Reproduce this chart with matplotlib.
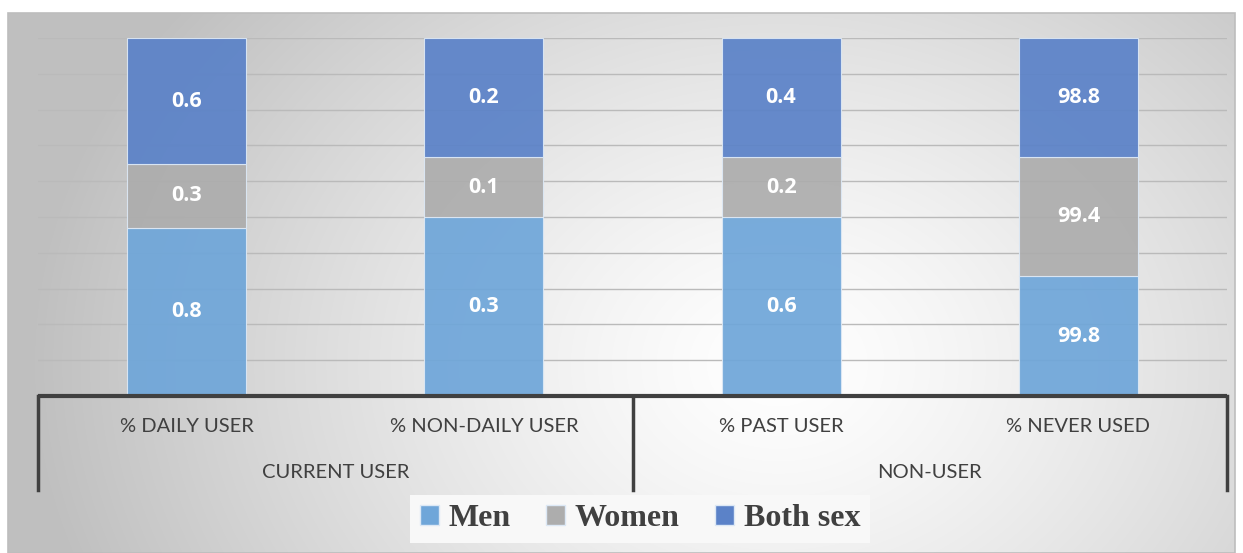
import numpy as np
import matplotlib.pyplot as plt
from matplotlib.patches import Patch, Rectangle

# values (shown as 100% stacked columns)
categories = ['% DAILY USER', '% NON-DAILY USER', '% PAST USER', '% NEVER USED']
groups = ['CURRENT USER', 'NON-USER']
men = [0.8, 0.3, 0.6, 99.8]
women = [0.3, 0.1, 0.2, 99.4]
both_sex = [0.6, 0.2, 0.4, 98.8]

series = [('Men', men, '#6fa6d9'), ('Women', women, '#adadad'), ('Both sex', both_sex, '#5b82c8')]

W, H = 1243, 553
fig = plt.figure(figsize=(W / 100, H / 100), dpi=100)

# background: white page with a grey radial gradient chart area
bg = fig.add_axes([0, 0, 1, 1])
bg.set_xlim(0, W)
bg.set_ylim(H, 0)
bg.axis('off')
yy, xx = np.mgrid[0:H, 0:W]
r = np.sqrt(((xx - 780) / 1.0) ** 2 + ((yy - 360) / 0.8) ** 2)
t = np.clip(r / 760, 0, 1)
shade = 1 - 0.25 * t ** 1.3
img = np.dstack([shade, shade, shade])
bg.imshow(img, extent=[8, 1235, H, 13], aspect='auto', zorder=0)
bg.add_patch(Rectangle((8, 13), 1227, H - 13, fill=False, ec='#bdbdbd', lw=1.2, zorder=1))

# main plot area
x0, x1, ytop, ybot = 38, 1227, 38, 396
ax = fig.add_axes([x0 / W, (H - ybot) / H, (x1 - x0) / W, (ybot - ytop) / H])
ax.patch.set_alpha(0)
for s in ax.spines.values():
    s.set_visible(False)
ax.set_xticks([])
ax.set_yticks([])
ax.set_xlim(-0.5, 3.5)
ax.set_ylim(0, 100)

for g in range(1, 11):
    ax.axhline(g * 10, color='#bababa', lw=1, zorder=1)

x = np.arange(len(categories))
totals = np.array(men) + np.array(women) + np.array(both_sex)
bottom = np.zeros(len(categories))
for name, vals, col in series:
    pct = np.array(vals) / totals * 100
    ax.bar(x, pct, 0.4, bottom=bottom, color=col, alpha=0.93, edgecolor='#dce8f5', linewidth=0.8, zorder=2)
    for i in range(len(categories)):
        ax.text(x[i], bottom[i] + pct[i] / 2, f'{vals[i]}', ha='center', va='center',
                color='white', fontsize=15.5, fontweight='bold', family='Open Sans', zorder=3)
    bottom += pct

# two-level category axis
tr = ax.get_xaxis_transform()
ax.plot([-0.5, 3.5], [0, 0], color='#404040', lw=3, transform=tr, clip_on=False, solid_capstyle='butt')
sep_low = -(490 - ybot) / (ybot - ytop)
for sx in [-0.5, 1.5, 3.5]:
    ax.plot([sx, sx], [0, sep_low], color='#404040', lw=2.5, transform=tr, clip_on=False)
for i, c in enumerate(categories):
    ax.text(i, -(427 - ybot) / (ybot - ytop), c, transform=tr, ha='center', va='center',
            fontsize=14.5, color='#404040', family='Lato')
for j, g in enumerate(groups):
    ax.text(0.5 + 2 * j, -(473 - ybot) / (ybot - ytop), g, transform=tr, ha='center', va='center',
            fontsize=14.5, color='#404040', family='Lato')

handles = [Patch(facecolor=col, edgecolor='#dce8f5', label=name) for name, vals, col in series]
leg = fig.legend(handles=handles, loc='center', bbox_to_anchor=(640 / W, (H - 519) / H), ncol=3,
                 prop={'family': 'Liberation Serif', 'weight': 'bold', 'size': 23},
                 frameon=True, facecolor='#f8f8f8', edgecolor='none', framealpha=1,
                 handlelength=0.6, handleheight=0.6, handletextpad=0.3, columnspacing=1.1,
                 borderpad=0.3, borderaxespad=0, fancybox=False)
for tx in leg.get_texts():
    tx.set_color('#404040')

fig.savefig('out.png', dpi=100)
